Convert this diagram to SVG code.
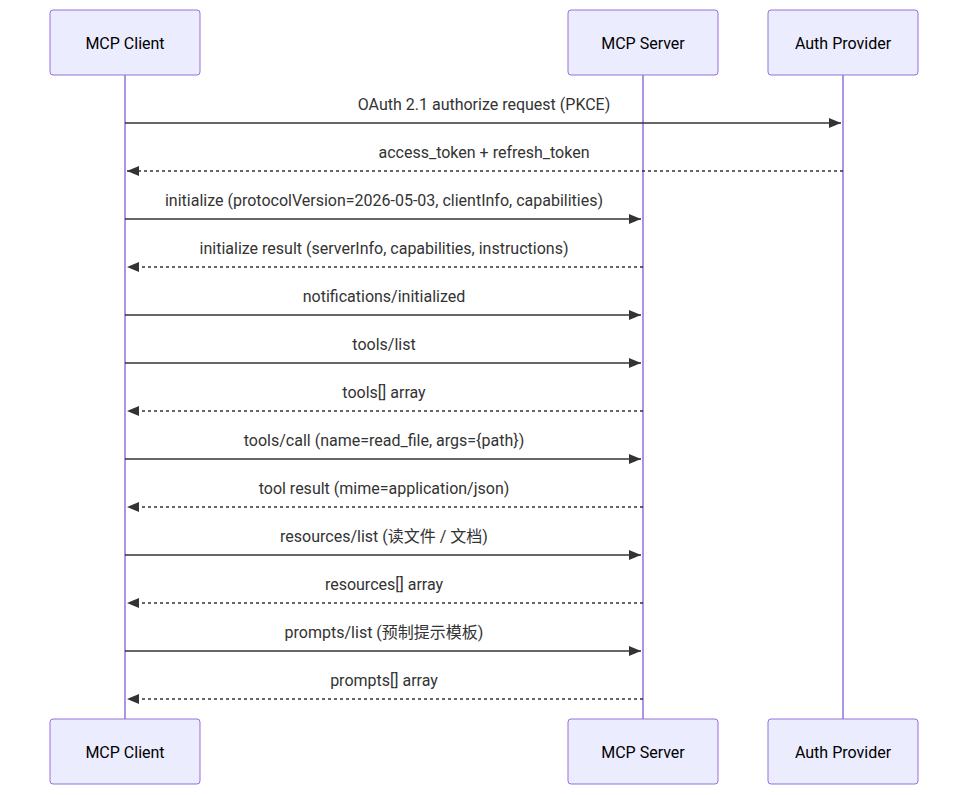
<svg xmlns="http://www.w3.org/2000/svg" width="968" height="795" viewBox="0 0 968 795">
<style>
.box{fill:#ECECFF;stroke:#9370DB;stroke-width:1}
.life{stroke:#9370DB;stroke-width:1.5}
.an{font-family:Roboto,"Noto Sans CJK SC",sans-serif;font-size:16px;fill:#000;text-anchor:middle;dominant-baseline:central}
.msg{font-family:Roboto,"Noto Sans CJK SC",sans-serif;font-size:16px;fill:#333;text-anchor:middle}
.s{stroke:#333;stroke-width:1.5;fill:none;marker-end:url(#ah)}
.d{stroke-dasharray:3,3}
</style>
<defs><marker id="ah" viewBox="0 0 12 10" refX="12" refY="5" markerWidth="12" markerHeight="10" markerUnits="userSpaceOnUse" orient="auto"><path d="M0,0L12,5L0,10z" fill="#333"/></marker></defs>
<g id="lifelines">
<line class="life" x1="125" y1="75" x2="125" y2="719"/>
<line class="life" x1="643" y1="75" x2="643" y2="719"/>
<line class="life" x1="843" y1="75" x2="843" y2="719"/>
</g>
<g id="client-top"><rect class="box" x="50" y="10" width="150" height="65" rx="3"/><text class="an" x="125" y="43">MCP Client</text></g>
<g id="server-top"><rect class="box" x="568" y="10" width="150" height="65" rx="3"/><text class="an" x="643" y="43">MCP Server</text></g>
<g id="auth-top"><rect class="box" x="768" y="10" width="150" height="65" rx="3"/><text class="an" x="843" y="43">Auth Provider</text></g>
<g id="client-bottom"><rect class="box" x="50" y="719" width="150" height="65" rx="3"/><text class="an" x="125" y="752">MCP Client</text></g>
<g id="server-bottom"><rect class="box" x="568" y="719" width="150" height="65" rx="3"/><text class="an" x="643" y="752">MCP Server</text></g>
<g id="auth-bottom"><rect class="box" x="768" y="719" width="150" height="65" rx="3"/><text class="an" x="843" y="752">Auth Provider</text></g>
<g id="connectors">
<line class="s" x1="125" y1="123" x2="841" y2="123"/>
<line class="s d" x1="843" y1="171" x2="127" y2="171"/>
<line class="s" x1="125" y1="219" x2="641" y2="219"/>
<line class="s d" x1="643" y1="267" x2="127" y2="267"/>
<line class="s" x1="125" y1="315" x2="641" y2="315"/>
<line class="s" x1="125" y1="363" x2="641" y2="363"/>
<line class="s d" x1="643" y1="411" x2="127" y2="411"/>
<line class="s" x1="125" y1="459" x2="641" y2="459"/>
<line class="s d" x1="643" y1="507" x2="127" y2="507"/>
<line class="s" x1="125" y1="555" x2="641" y2="555"/>
<line class="s d" x1="643" y1="603" x2="127" y2="603"/>
<line class="s" x1="125" y1="651" x2="641" y2="651"/>
<line class="s d" x1="643" y1="699" x2="127" y2="699"/>
<text class="msg" x="484" y="110">OAuth 2.1 authorize request (PKCE)</text>
<text class="msg" x="484" y="158">access_token + refresh_token</text>
<text class="msg" x="384" y="206">initialize (protocolVersion=2026-05-03, clientInfo, capabilities)</text>
<text class="msg" x="384" y="254">initialize result (serverInfo, capabilities, instructions)</text>
<text class="msg" x="384" y="302">notifications/initialized</text>
<text class="msg" x="384" y="350">tools/list</text>
<text class="msg" x="384" y="398">tools[] array</text>
<text class="msg" x="384" y="446">tools/call (name=read_file, args={path})</text>
<text class="msg" x="384" y="494">tool result (mime=application/json)</text>
<text class="msg" x="384" y="542">resources/list (读文件 / 文档)</text>
<text class="msg" x="384" y="590">resources[] array</text>
<text class="msg" x="384" y="638">prompts/list (预制提示模板)</text>
<text class="msg" x="384" y="686">prompts[] array</text>
</g>
</svg>
